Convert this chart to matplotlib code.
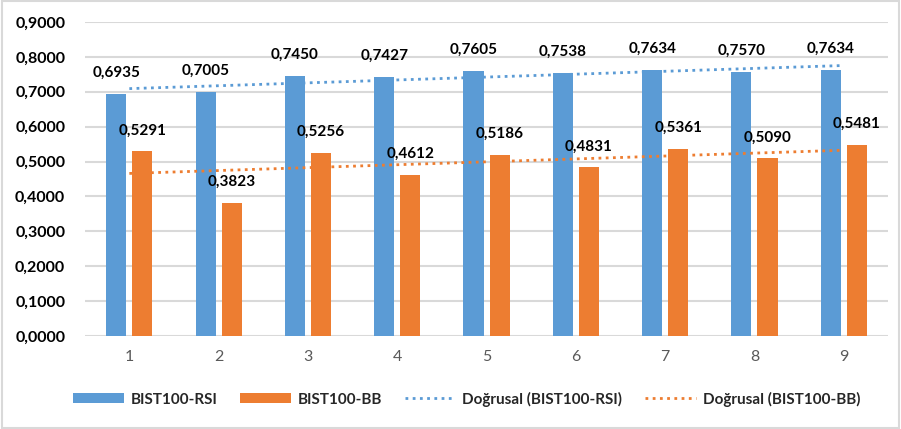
import numpy as np
import matplotlib
matplotlib.use("Agg")
import matplotlib.pyplot as plt
from matplotlib.patches import Rectangle
from matplotlib.ticker import FuncFormatter

categories = ["1", "2", "3", "4", "5", "6", "7", "8", "9"]
rsi = [0.6935, 0.7005, 0.7450, 0.7427, 0.7605, 0.7538, 0.7634, 0.7570, 0.7634]
bb = [0.5291, 0.3823, 0.5256, 0.4612, 0.5186, 0.4831, 0.5361, 0.5090, 0.5481]

BLUE = "#5B9BD5"
ORANGE = "#ED7D31"

plt.rcParams["font.family"] = ["Lato", "DejaVu Sans"]

fig = plt.figure(figsize=(9.01, 4.29), dpi=100)
ax = fig.add_axes([0.094, 0.2168, 0.892, 0.7319])

x = np.arange(len(categories))
w = 0.225
off = 0.146

ax.bar(x - off, rsi, w, color=BLUE, label="BIST100-RSI", zorder=3)
ax.bar(x + off, bb, w, color=ORANGE, label="BIST100-BB", zorder=3)

# linear trend lines through the category centres
for vals, col, name in [(rsi, BLUE, "Doğrusal (BIST100-RSI)"),
                        (bb, ORANGE, "Doğrusal (BIST100-BB)")]:
    k, b = np.polyfit(x, vals, 1)
    ax.plot(x, k * x + b, color=col, lw=2, ls=(0, (1, 1.6)),
            label=name, zorder=4)

def fmt(v):
    return f"{v:.4f}".replace(".", ",")

for xi, v in zip(x, rsi):
    ax.annotate(fmt(v), (xi - off, v), xytext=(0, 10), textcoords="offset points",
                ha="center", va="bottom", fontsize=11, fontweight="bold", color="#000000")
for xi, v in zip(x, bb):
    ax.annotate(fmt(v), (xi + off, v), xytext=(0, 10), textcoords="offset points",
                ha="center", va="bottom", fontsize=11, fontweight="bold", color="#000000")

ax.set_xlim(-0.5, len(categories) - 0.5)
ax.set_ylim(0, 0.9)
ax.set_yticks(np.arange(0, 0.91, 0.1))
ax.yaxis.set_major_formatter(FuncFormatter(lambda v, p: fmt(v)))
ax.set_xticks(x)
ax.set_xticklabels(categories)

ax.grid(axis="y", color="#D9D9D9", lw=1.5, zorder=0)
for s in ax.spines.values():
    s.set_visible(False)
ax.tick_params(axis="both", length=0)
ax.tick_params(axis="y", labelsize=11.5, pad=14)
ax.tick_params(axis="x", labelsize=11.5, labelcolor="#595959", pad=10)
for t in ax.get_yticklabels():
    t.set_fontweight("bold")

handles, labels = ax.get_legend_handles_labels()
order = [2, 3, 0, 1]
handles = [handles[i] for i in order]
labels = [labels[i] for i in order]
leg = fig.legend(handles, labels, loc="center", bbox_to_anchor=(0.518, 0.07),
                 ncol=4, frameon=False, fontsize=11, handlelength=3.3,
                 handleheight=0.6, columnspacing=1.5, handletextpad=0.45)
for t in leg.get_texts():
    t.set_fontweight("bold")
    t.set_color("#262626")

fig.patches.append(Rectangle((0.002, 0.003), 0.996, 0.994, transform=fig.transFigure,
                             fill=False, edgecolor="#D9D9D9", lw=1.5))

fig.savefig("out.png", dpi=100)
